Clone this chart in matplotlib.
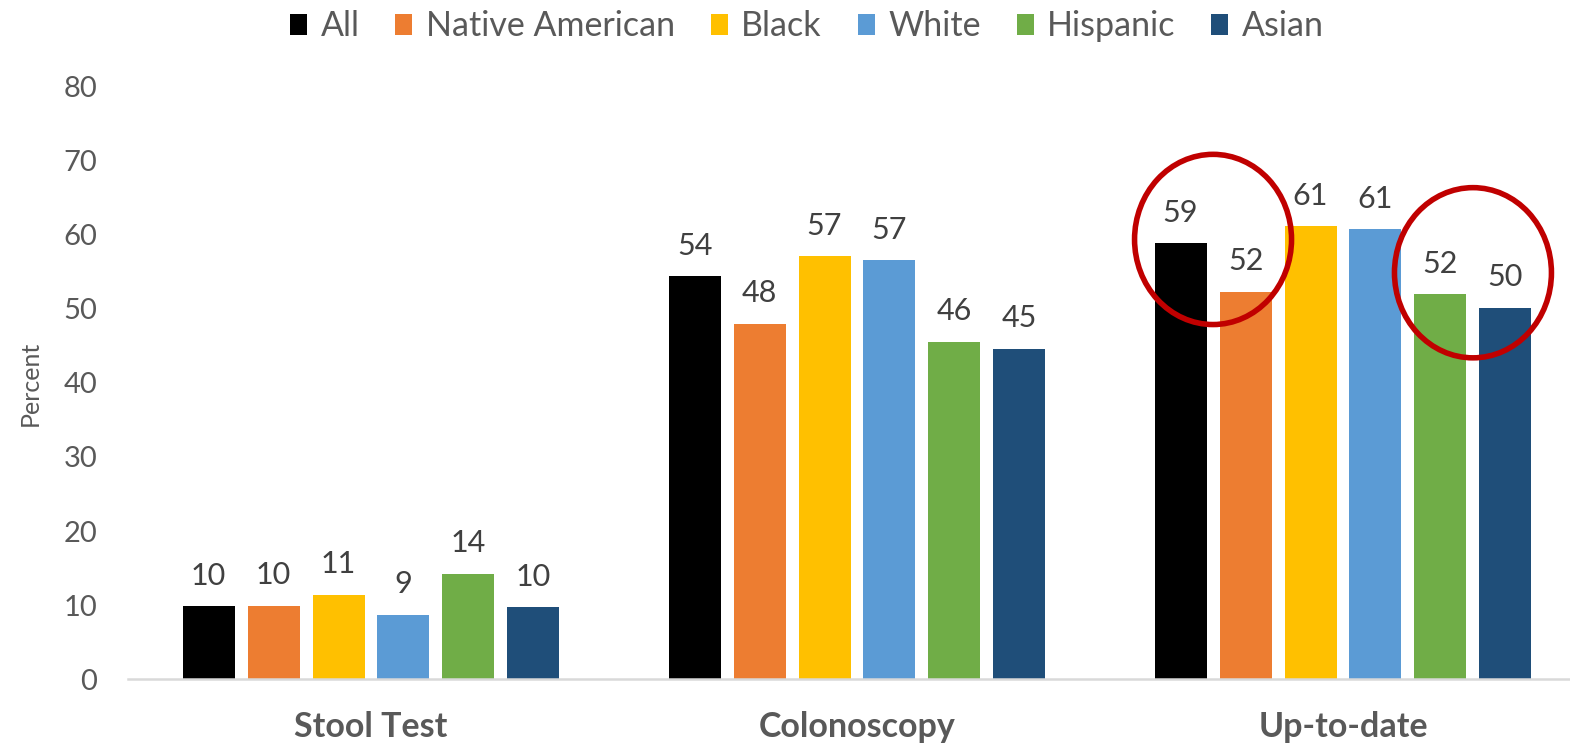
import matplotlib.pyplot as plt
import numpy as np
from matplotlib.patches import Ellipse

categories = ["Stool Test", "Colonoscopy", "Up-to-date"]
groups = ["All", "Native American", "Black", "White", "Hispanic", "Asian"]
colors = ["#000000", "#ED7D31", "#FFC000", "#5B9BD5", "#70AD47", "#1F4E79"]

all_pct = [9.8, 54.4, 58.9]
native_pct = [9.9, 48.0, 52.3]
black_pct = [11.4, 57.1, 61.2]
white_pct = [8.7, 56.6, 60.8]
hispanic_pct = [14.2, 45.6, 52.0]
asian_pct = [9.7, 44.6, 50.2]

series = [all_pct, native_pct, black_pct, white_pct, hispanic_pct, asian_pct]

# highlighted pairs in the "Up-to-date" group (series indices)
circled = [(0, 1), (4, 5)]

TXT = "#595959"
plt.rcParams["font.family"] = ["Lato", "DejaVu Sans"]


def plot():
    fig = plt.figure(figsize=(15.7, 7.48), dpi=100)
    ax = fig.add_axes([128 / 1570, 69 / 748, 1442 / 1570, 592 / 748])

    x = np.arange(len(categories))
    pitch = 0.1337
    width = 0.107

    for i, (name, vals, col) in enumerate(zip(groups, series, colors)):
        xs = x + (i - 2.5) * pitch
        ax.bar(xs, vals, width, color=col, label=name)
        for xi, v in zip(xs, vals):
            ax.annotate(f"{v:.0f}", (xi, v), xytext=(0, 22), textcoords="offset points",
                        ha="center", va="center", fontsize=22, color="#404040")

    # red circles
    for a, b in circled:
        cx = 2 + ((a + b) / 2 - 2.5) * pitch
        cy = (series[a][2] + series[b][2]) / 2 + 3.8
        ax.add_patch(Ellipse((cx, cy), 0.323, 23, fill=False, edgecolor="#C00000",
                             lw=4, clip_on=False, zorder=5))

    ax.set_xlim(-0.5, -0.5 + 1442 / 486)
    ax.set_ylim(0, 80)
    ax.set_yticks(range(0, 81, 10))
    ax.set_xticks(x)
    ax.set_xticklabels(categories, fontsize=24.5, fontweight="bold", color=TXT)
    ax.tick_params(axis="x", length=0, pad=23)
    ax.tick_params(axis="y", length=0, pad=22, labelsize=21, labelcolor=TXT)
    ax.set_ylabel("Percent", fontsize=18, color=TXT, labelpad=16)

    for s in ["top", "right", "left"]:
        ax.spines[s].set_visible(False)
    ax.spines["bottom"].set_color("#D9D9D9")
    ax.spines["bottom"].set_linewidth(1.8)

    fig.legend(loc="upper center", bbox_to_anchor=(0.514, 1.027), ncol=6, frameon=False,
               fontsize=24.5, handlelength=0.5, handleheight=0.6, handletextpad=0.4,
               columnspacing=1.05, labelcolor=TXT)

    fig.savefig("out.png", dpi=100)
    plt.close()


if __name__ == "__main__":
    plot()
